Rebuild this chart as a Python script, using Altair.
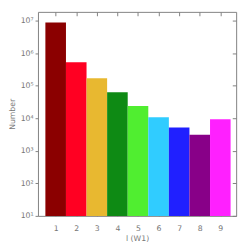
import altair as alt
import pandas as pd

levels = [1, 2, 3, 4, 5, 6, 7, 8, 9]
counts = [8.7e6, 5.3e5, 1.7e5, 6.3e4, 2.4e4, 1.07e4, 5.2e3, 3.1e3, 9.3e3]
colors = ["#8B0000", "#FF0022", "#E8B830", "#0E8A14", "#50EE30",
          "#30CCFF", "#2020FF", "#880088", "#FF20FF"]
y_ticks = [10, 100, 1000, 10000, 100000, 1000000, 10000000]

df = pd.DataFrame({"l": levels, "n": counts, "c": colors})
df["x0"] = df["l"] - 0.5
df["x1"] = df["l"] + 0.5

FONT = "DejaVu Sans"
GRAY = "#808080"
LAB = "#777777"

xscale = alt.Scale(domain=[0.14, 9.77], nice=False, zero=False)
yscale = alt.Scale(type="log", domain=[10, 1.86e7], nice=False)

sup = "['⁰','¹','²','³','⁴','⁵','⁶','⁷','⁸'][round(log(datum.value)/LN10)]"

base = alt.Chart(df)

bars = base.mark_bar(strokeWidth=0).encode(
    x=alt.X("x0:Q", scale=xscale,
            axis=alt.Axis(orient="bottom", values=levels, title="l (W1)", format="d",
                          ticks=False, domain=False, grid=False, labelPadding=9,
                          labelFontSize=8, labelColor=LAB, labelFont=FONT,
                          titleFontSize=8, titleColor=LAB, titleFont=FONT,
                          titleFontWeight="normal", titlePadding=2)),
    x2="x1:Q",
    y=alt.Y("n:Q", scale=yscale,
            axis=alt.Axis(orient="left", values=y_ticks, title="Number",
                          labelExpr="'10' + " + sup,
                          tickSize=3, tickColor=GRAY, domain=False, grid=False,
                          labelPadding=2, labelFontSize=8, labelColor=LAB, labelFont=FONT,
                          titleFontSize=8, titleColor=LAB, titleFont=FONT,
                          titleFontWeight="normal", titlePadding=4)),
    y2=alt.Y2(datum=10),
    color=alt.Color("c:N", scale=None),
)

ticks_bottom = base.mark_bar(opacity=0).encode(
    x=alt.X("x0:Q", scale=xscale,
            axis=alt.Axis(orient="bottom", values=levels, labels=False, title=None,
                          offset=-4, tickSize=4, tickColor=GRAY, domain=False, grid=False)),
    x2="x1:Q",
    y=alt.Y("n:Q", scale=yscale,
            axis=alt.Axis(orient="right", values=y_ticks, labels=False, title=None,
                          offset=-4, tickSize=4, tickColor=GRAY, domain=False, grid=False)),
    y2=alt.Y2(datum=10),
)

ticks_top = base.mark_bar(opacity=0).encode(
    x=alt.X("x0:Q", scale=xscale,
            axis=alt.Axis(orient="top", values=levels, labels=False, title=None,
                          offset=-4, tickSize=4, tickColor=GRAY, domain=False, grid=False)),
    x2="x1:Q",
    y=alt.Y("n:Q", scale=yscale, axis=None),
    y2=alt.Y2(datum=10),
)

chart = alt.layer(bars, ticks_bottom, ticks_top).resolve_axis(
    x="independent", y="independent"
).properties(
    width=205, height=211,
    autosize=alt.AutoSizeParams(type="none"),
    padding={"left": 31, "top": 0, "right": 5, "bottom": 23},
).configure_view(stroke=GRAY, strokeWidth=1)

chart.save("out.html", embed_options={"renderer": "svg", "actions": False})
